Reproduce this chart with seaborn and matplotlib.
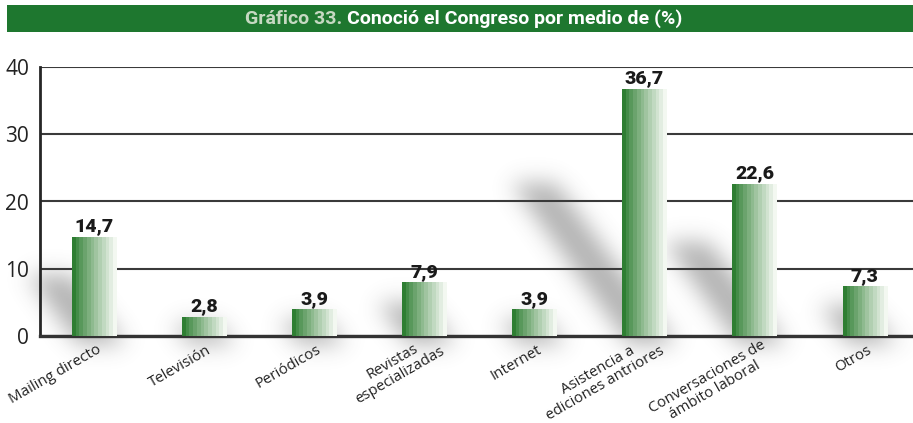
import numpy as np
import pandas as pd
import matplotlib
matplotlib.use("Agg")
import matplotlib.pyplot as plt
import seaborn as sns
from matplotlib.path import Path
from matplotlib.patches import Rectangle
from matplotlib.colors import to_rgb

# ---- data -----------------------------------------------------------------
categories = [
    "Mailing directo",
    "Televisión",
    "Periódicos",
    "Revistas\nespecializadas",
    "Internet",
    "Asistencia a\nediciones antriores",
    "Conversaciones de\námbito laboral",
    "Otros",
]
values = [14.7, 2.8, 3.9, 7.9, 3.9, 36.7, 22.6, 7.3]
y_ticks = [0, 10, 20, 30, 40]
title_prefix = "Gráfico 33."
title_main = "Conoció el Congreso por medio de (%)"

# ---- figure setup ---------------------------------------------------------
W, H, DPI = 913, 423, 100
sns.set_theme(style="white")
plt.rcParams["font.family"] = ["Open Sans", "DejaVu Sans"]

fig = plt.figure(figsize=(W / DPI, H / DPI), dpi=DPI)
fig.patch.set_facecolor("white")
renderer = fig.canvas.get_renderer()

# background layer (shadows, banner, category labels) in pixel coordinates
bg = fig.add_axes([0, 0, 1, 1], zorder=0)
bg.set_xlim(0, W)
bg.set_ylim(0, H)
bg.axis("off")

# main plotting axes
ax_l, ax_r, ax_b, ax_t = 40, 913, 87, 356
ax = fig.add_axes([ax_l / W, ax_b / H, (ax_r - ax_l) / W, (ax_t - ax_b) / H], zorder=2)
ax.patch.set_visible(False)

df = pd.DataFrame({"medio": categories, "pct": values})
sns.barplot(data=df, x="medio", y="pct", order=categories, width=0.4,
            color="#3b8a3f", ax=ax, zorder=3)

xlim = (-0.49, 7.44)
ylim = (0, 40)

# striped gradient fill for each bar
dark = np.array(to_rgb("#2e7e32"))
light = np.array(to_rgb("#f3f8f1"))
steps = 12
t = (np.arange(steps) / (steps - 1)) ** 0.9
grad = (dark[None, :] * (1 - t[:, None]) + light[None, :] * t[:, None])[None, :, :]

bars = list(ax.patches)
for p, v in zip(bars, values):
    x0, w, h = p.get_x(), p.get_width(), p.get_height()
    ax.imshow(grad, extent=[x0, x0 + w, 0, h], aspect="auto",
              interpolation="nearest", zorder=3)
    p.set_visible(False)
    ax.text(x0 + w / 2, h + 0.3, f"{v:.1f}".replace(".", ","),
            ha="center", va="bottom", fontsize=14, fontweight="heavy",
            family=["Roboto", "DejaVu Sans"], color="#1a1a1a", zorder=4)

ax.set_xlim(*xlim)
ax.set_ylim(*ylim)
ax.set_aspect("auto")

# axes styling
ax.set_yticks(y_ticks)
ax.yaxis.grid(True, color="#3a3a3a", linewidth=1.5)
ax.xaxis.grid(False)
ax.set_axisbelow(True)
for side in ("top", "right"):
    ax.spines[side].set_visible(False)
ax.spines["left"].set_color("#262626")
ax.spines["left"].set_linewidth(2.0)
ax.spines["bottom"].set_color("#333333")
ax.spines["bottom"].set_linewidth(2.4)
ax.set_xlabel("")
ax.set_ylabel("")
ax.tick_params(axis="y", length=0, pad=8, labelsize=15, labelcolor="#222222")
ax.set_xticks(range(len(categories)))
ax.set_xticklabels([""] * len(categories))
ax.tick_params(axis="x", length=0)

# ---- rotated category labels (one text per line, lines centred) -----------
ang = np.deg2rad(30)
d_vec = np.array([np.cos(ang), np.sin(ang)])      # along the text
n_vec = np.array([np.sin(ang), -np.cos(ang)])     # next line direction
line_gap = 15.5
for i, lab in enumerate(categories):
    lines = lab.split("\n")
    texts, widths = [], []
    for ln in lines:
        tx = bg.text(0, 0, ln, fontsize=10.8, color="#222222", ha="center",
                     va="center", rotation_mode="anchor", zorder=6)
        widths.append(tx.get_window_extent(renderer).width)
        texts.append(tx)
    k = int(np.argmax(widths))
    nlin = len(lines)
    cx, base_y = ax.transData.transform((i, 0))
    if nlin == 1:
        end = np.array([cx + 6, base_y - 13])
    elif k == 0:
        end = np.array([cx + 10, base_y - 8])
    else:
        end = np.array([cx + 19, base_y - 14])
    centre_k = end - widths[k] / 2 * d_vec
    block = centre_k - (k - (nlin - 1) / 2) * line_gap * n_vec
    for j, tx in enumerate(texts):
        pos = block + (j - (nlin - 1) / 2) * line_gap * n_vec
        tx.set_position(tuple(pos))
        tx.set_rotation(30)

# ---- soft cast shadows behind the bars -------------------------------------
rows = np.arange(H)
cols = np.arange(W)
gx, gy = np.meshgrid(cols + 0.5, H - rows - 0.5)
pts = np.column_stack([gx.ravel(), gy.ravel()])
mask = np.zeros(H * W)
for p, v in zip(bars, values):
    x0, w = p.get_x(), p.get_width()
    (bx0, by0) = ax.transData.transform((x0, 0))
    (bx1, by1) = ax.transData.transform((x0 + w, v))
    hp = by1 - by0
    ddx, ddy = -0.45 * hp, 0.62 * hp
    poly = Path([(bx0 + 6, by0 - 8), (bx1 + 10, by0 - 8),
                 (bx1 + ddx, by0 + ddy), (bx0 + ddx, by0 + ddy)])
    inside = poly.contains_points(pts)
    mask = np.maximum(mask, inside.astype(float))
mask = mask.reshape(H, W)


def gauss_matrix(n, sigma):
    idx = np.arange(n)
    k = np.exp(-0.5 * ((idx[:, None] - idx[None, :]) / sigma) ** 2)
    return k / k.sum(axis=1, keepdims=True)


blur = gauss_matrix(H, 11) @ mask @ gauss_matrix(W, 11).T
shadow = np.zeros((H, W, 4))
shadow[..., :3] = 0.33
shadow[..., 3] = np.clip(blur, 0, 1) * 0.45
bg.imshow(shadow, extent=[0, W, 0, H], origin="upper", aspect="auto",
          interpolation="bilinear", zorder=0)

# ---- title banner ----------------------------------------------------------
bg.add_patch(Rectangle((7, H - 32), W - 7, 27, facecolor="#1e772f",
                       edgecolor="none", zorder=5))
tkw = dict(fontsize=14, fontweight="bold", family=["Roboto", "DejaVu Sans"],
           va="center", zorder=6)
t1 = bg.text(0, H - 18.5, title_prefix + " ", color="#c6d9c2", **tkw)
t2 = bg.text(0, H - 18.5, title_main, color="white", **tkw)
w1 = t1.get_window_extent(renderer).width
w2 = t2.get_window_extent(renderer).width
start = 464 - (w1 + w2) / 2
t1.set_x(start)
t2.set_x(start + w1)

fig.savefig("out.png", dpi=DPI)
